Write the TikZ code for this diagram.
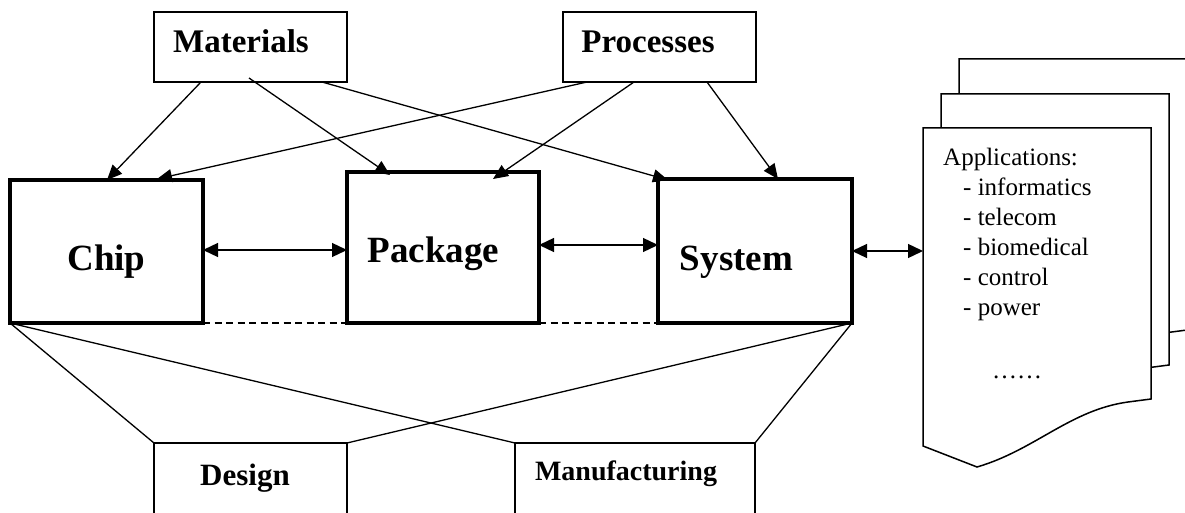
\documentclass[tikz,border=0pt]{standalone}
\usepackage{fontspec}
\setmainfont{Liberation Serif}
\usetikzlibrary{arrows.meta,calc}

\tikzset{
  x=1pt, y=1pt,
  blockbox/.style={draw, rectangle, line width=3.5pt, inner sep=0pt, outer sep=0pt},
  inputbox/.style={draw, rectangle, line width=1.5pt, inner sep=0pt, outer sep=0pt,
                   minimum width=193pt, minimum height=70pt},
  flowbox/.style={draw, rectangle, line width=1.5pt, inner sep=0pt, outer sep=0pt,
                  minimum height=79pt},
  bigtext/.style={anchor=base, inner sep=0pt, font=\fontsize{37}{40}\selectfont\bfseries},
  midtext/.style={anchor=base, inner sep=0pt, font=\fontsize{33}{36}\selectfont\bfseries},
  link/.style={line width=1.3pt},
  feed/.style={link, -{Triangle[length=15pt,width=13pt]}},
  biarrow/.style={link, {Triangle[length=15pt,width=14pt]}-{Triangle[length=15pt,width=14pt]}},
  tie/.style={line width=1.5pt, dash pattern=on 7pt off 4.5pt},
  docpage/.pic={
    \draw[fill=white, line width=1.5pt]
      (923,384) -- (1151,384) -- (1151,113) -- (1128,110)
      .. controls (1070,102) and (1035,62) .. (977,45)
      -- (923,66) -- cycle;
  }
}

\begin{document}
\begin{tikzpicture}
\useasboundingbox (0,0) rectangle (1185,512);
\clip (0,0) rectangle (1185,512);
\fill[white] (0,0) rectangle (1185,512);

% inputs
\node[inputbox] (mat)  at (250.5,465) {};
\node[inputbox] (proc) at (659.5,465) {};
\node[midtext] (matT)  at (241,459) {Materials};
\node[midtext] (procT) at (648,459) {Processes};

% main levels
\node[blockbox, minimum width=193pt, minimum height=143pt] (chip) at (106.5,260.5) {};
\node[blockbox, minimum width=192pt, minimum height=151pt] (pkg)  at (443,264.5) {};
\node[blockbox, minimum width=194pt, minimum height=144pt] (sys)  at (755,261) {};
\node[bigtext] (chipT) at (106.5,242) {Chip};
\node[bigtext] (pkgT)  at (433.5,250) {Package};
\node[bigtext] (sysT)  at (736.5,242) {System};

% design / manufacturing (open at the bottom)
\node[flowbox, minimum width=193pt] (des) at (250.5,29.5) {};
\node[flowbox, minimum width=240pt] (man) at (635,29.5) {};
\node[midtext, font=\fontsize{31}{34}\selectfont\bfseries] (desT) at (245,27) {Design};
\node[midtext, font=\fontsize{28}{31}\selectfont\bfseries] (manT) at (626,32) {Manufacturing};

% stacked application sheets
\pic at (36,69) {docpage};
\pic at (18,34) {docpage};
\pic at (0,0) {docpage};
\coordinate (docin) at (923,262);
\node[anchor=base west, inner sep=0pt, font=\fontsize{25}{30}\selectfont] (apps) at (943,346)
  {\vtop{\hbox{Applications:}
         \hbox{\hspace*{20pt}- informatics}
         \hbox{\hspace*{20pt}- telecom}
         \hbox{\hspace*{20pt}- biomedical}
         \hbox{\hspace*{20pt}- control}
         \hbox{\hspace*{20pt}- power}
         \vskip33pt
         \hbox{\hspace*{49pt}……}}};

% materials feed every level
\draw[feed] ($(mat.south west)+(47,0)$) -- ($(chip.north west)+(97,0)$);
\draw[feed] ($(mat.south west)+(95,4)$) -- ($(pkg.north west)+(43,-3)$);
\draw[feed] ($(mat.south west)+(168,0)$) -- ($(sys.north west)+(10,-1)$);
% processes feed every level
\draw[feed] ($(proc.south west)+(24,0)$) -- ($(chip.north west)+(147,1)$);
\draw[feed] ($(proc.south west)+(71,0)$) -- ($(pkg.north west)+(146,-7)$);
\draw[feed] ($(proc.south west)+(144,0)$) -- ($(sys.north west)+(120,0)$);

% interactions between levels
\coordinate (cpLevel) at (0,262);
\coordinate (psLevel) at (0,267);
\draw[biarrow] (chip.east |- cpLevel) -- (pkg.west |- cpLevel);
\draw[biarrow] (pkg.east |- psLevel) -- (sys.west |- psLevel);
\draw[biarrow] (sys.east) -- (sys.east -| docin);

% dashed ties along the bottom
\draw[tie] (chip.south east) -- (pkg.south west);
\draw[tie] (pkg.south east) -- (sys.south west);

% fan-out to design and manufacturing
\draw[link] (chip.south west) -- (des.north west);
\draw[link] (chip.south west) -- (man.north west);
\draw[link] (sys.south east) -- (des.north east);
\draw[link] (sys.south east) -- (man.north east);
\end{tikzpicture}
\end{document}
